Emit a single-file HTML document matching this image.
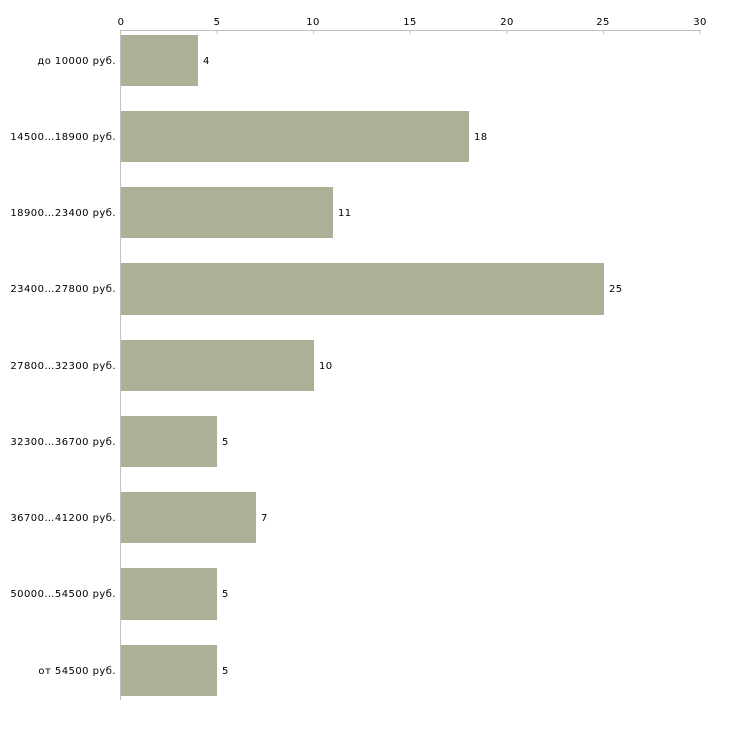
<!DOCTYPE html>
<html><head><meta charset="utf-8"><style>body{margin:0;background:#fff}</style></head><body>
<svg width="730" height="730" xmlns="http://www.w3.org/2000/svg" font-family="DejaVu Sans, Liberation Sans, sans-serif" font-size="10">
<rect width="730" height="730" fill="#fff"/>
<line x1="120" y1="30.5" x2="700" y2="30.5" stroke="#c0c0c0"/>
<line x1="120.5" y1="30" x2="120.5" y2="700" stroke="#c0c0c0"/>
<g stroke="#c8c89a">
<line x1="120.5" y1="30" x2="120.5" y2="34"/><line x1="217" y1="30" x2="217" y2="34"/><line x1="313.5" y1="30" x2="313.5" y2="34"/><line x1="410" y1="30" x2="410" y2="34"/><line x1="507" y1="30" x2="507" y2="34"/><line x1="603.5" y1="30" x2="603.5" y2="34"/><line x1="700" y1="30" x2="700" y2="34"/>
</g>
<g text-anchor="middle" fill="#000" letter-spacing="0.4">
<text x="121" y="25">0</text><text x="217" y="25">5</text><text x="313" y="25">10</text><text x="410" y="25">15</text><text x="507" y="25">20</text><text x="603" y="25">25</text><text x="700" y="25">30</text>
</g>
<g fill="#abb197">
<rect x="121" y="35" width="77" height="51"/>
<rect x="121" y="111" width="348" height="51"/>
<rect x="121" y="187" width="212" height="51"/>
<rect x="121" y="263" width="483" height="52"/>
<rect x="121" y="340" width="193" height="51"/>
<rect x="121" y="416" width="96" height="51"/>
<rect x="121" y="492" width="135" height="51"/>
<rect x="121" y="568" width="96" height="52"/>
<rect x="121" y="645" width="96" height="51"/>
</g>
<g fill="#000" letter-spacing="0.4">
<text x="203" y="64">4</text><text x="474" y="140">18</text><text x="338" y="216">11</text><text x="609" y="292">25</text><text x="319" y="369">10</text><text x="222" y="445">5</text><text x="261" y="521">7</text><text x="222" y="597">5</text><text x="222" y="674">5</text>
</g>
<g text-anchor="end" fill="#000" letter-spacing="0.45">
<text x="116" y="64">до 10000 руб.</text>
<text x="116" y="140">14500…18900 руб.</text>
<text x="116" y="216">18900…23400 руб.</text>
<text x="116" y="292">23400…27800 руб.</text>
<text x="116" y="369">27800…32300 руб.</text>
<text x="116" y="445">32300…36700 руб.</text>
<text x="116" y="521">36700…41200 руб.</text>
<text x="116" y="597">50000…54500 руб.</text>
<text x="116" y="674">от 54500 руб.</text>
</g>
</svg>
</body></html>
